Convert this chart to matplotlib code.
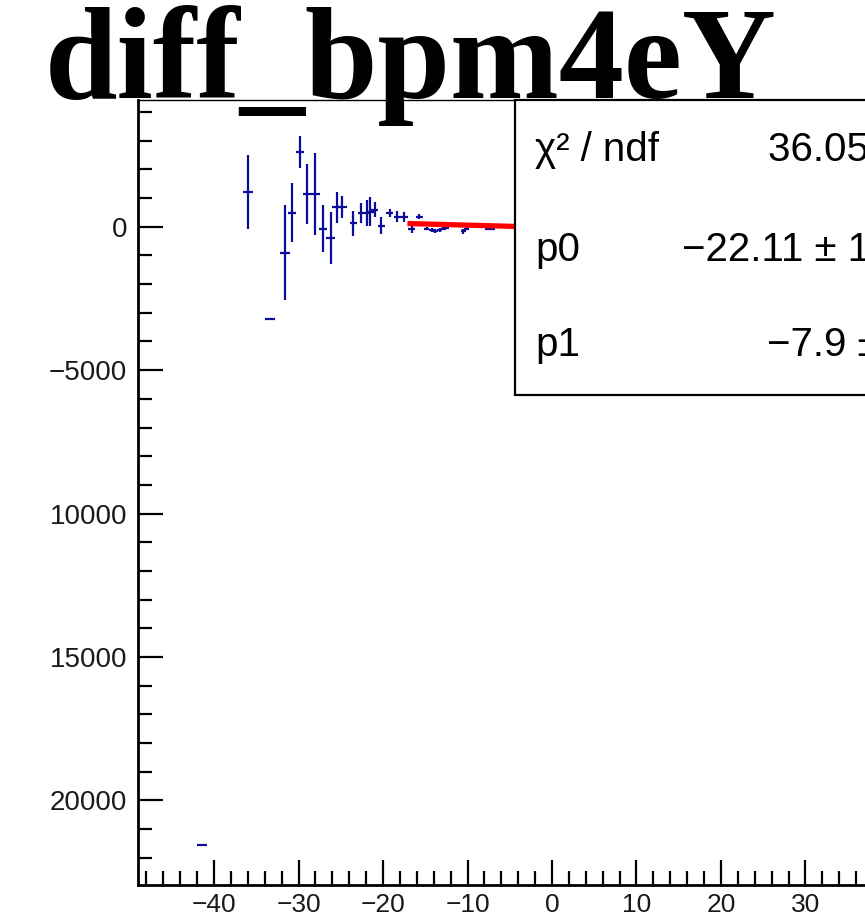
import numpy as np
import matplotlib
matplotlib.use('Agg')
import matplotlib.pyplot as plt
from matplotlib.ticker import MultipleLocator
from matplotlib.patches import Rectangle

# Points (x, y, errors)
x = [-41.4, -36.0, -33.4, -31.6, -30.8, -29.8, -29.0, -28.0, -27.1, -26.2,
     -25.5, -24.8, -23.5, -22.6, -21.9, -21.5, -21.0, -20.2, -19.2, -18.3,
     -17.5, -16.6, -15.7, -14.8, -14.2, -13.8, -13.3, -12.9, -12.5, -11.9,
     -10.5, -10.1, -7.6, -7.0]
y = [-21550, 1215, -3230, -900, 485, 2610, 1145, 1145, -70, -400,
     685, 685, 130, 475, 475, 530, 590, 35, 475, 355,
     335, -80, 355, -70, -105, -140, -105, -70, -35, 70,
     -160, -70, -70, -70]
yerr = [0, 1300, 0, 1650, 1025, 570, 1040, 1420, 815, 900,
        540, 390, 435, 350, 450, 495, 260, 295, 145, 200,
        175, 145, 100, 60, 60, 60, 60, 60, 60, 60,
        80, 50, 30, 30]
xerr = [0.6, 0.6, 0.6, 0.6, 0.5, 0.5, 0.5, 0.5, 0.5, 0.5,
        0.5, 0.5, 0.4, 0.4, 0.4, 0.4, 0.4, 0.4, 0.4, 0.4,
        0.4, 0.4, 0.4, 0.3, 0.3, 0.3, 0.3, 0.3, 0.3, 0.3,
        0.3, 0.3, 0.3, 0.3]

# linear fit shown in the stats box
p0, p0_err = -22.11, 18.34
p1, p1_err = -7.9, 1.2
chi2_ndf = '36.05 / 31'
fit_range = [-16.8, 30.0]

xtick_vals = [-40, -30, -20, -10, 0, 10, 20, 30]
ytick_vals = [-20000, -15000, -10000, -5000, 0]
ytick_labels = ['20000', '15000', '10000', '\u22125000', '0']

W, H = 865, 918
fig = plt.figure(figsize=(W / 100, H / 100), dpi=100)
ax = fig.add_axes([138 / W, 33 / H, 828 / W, 785 / H])

navy = '#0c0c9c'
ax.errorbar(x, y, xerr=xerr, yerr=yerr, fmt='none', ecolor=navy,
            elinewidth=1.6, capsize=0, zorder=3)
fx = np.array(fit_range)
ax.plot(fx, p0 + p1 * fx, color='red', lw=3.8, zorder=4)

ax.set_xlim(-49, 49)
ax.set_ylim(-22950, 4420)
ax.set_xticks(xtick_vals)
ax.xaxis.set_minor_locator(MultipleLocator(2))
ax.set_yticks(ytick_vals)
ax.set_yticklabels(ytick_labels)
ax.yaxis.set_minor_locator(MultipleLocator(1000))

ax.tick_params(which='both', direction='in', width=1.6, top=False, right=False)
ax.tick_params(which='major', length=18)
ax.tick_params(which='minor', length=10)
ax.tick_params(axis='y', pad=8)
ax.tick_params(axis='x', pad=6)
for lab in ax.get_xticklabels() + ax.get_yticklabels():
    lab.set_fontfamily('Liberation Sans')
    lab.set_fontsize(20)
    lab.set_color('#1a1a1a')
for lab in ax.get_xticklabels():
    lab.set_fontsize(19)

ax.spines['left'].set_linewidth(2)
ax.spines['bottom'].set_linewidth(2)
ax.spines['top'].set_linewidth(1)
ax.spines['right'].set_visible(False)

# stats box (runs past the right edge of the picture)
box = Rectangle((515 / W, 523 / H), 500 / W, 295 / H, transform=fig.transFigure,
                facecolor='white', edgecolor='black', lw=1.6, zorder=5)
fig.add_artist(box)
st = dict(fontfamily='Liberation Sans', fontsize=29, va='center', ha='left', zorder=6)
fig.text(535 / W, 1 - 150 / H, '\u03c7\u00b2 / ndf', **st)
fig.text(768 / W, 1 - 150 / H, chi2_ndf, **st)
fig.text(535 / W, 1 - 250 / H, 'p0', **st)
fig.text(682 / W, 1 - 250 / H, f'\u2212{abs(p0):.2f} \u00b1 {p0_err:.2f}', **st)
fig.text(535 / W, 1 - 345 / H, 'p1', **st)
fig.text(767 / W, 1 - 345 / H, f'\u2212{abs(p1):.1f} \u00b1 {p1_err:.1f}', **st)

fig.text(45 / W, 1 - 98 / H, 'diff_bpm4eY', fontfamily='Liberation Serif',
         fontweight='bold', fontsize=94, va='baseline', ha='left', zorder=7)

fig.savefig('out.png', dpi=100)
